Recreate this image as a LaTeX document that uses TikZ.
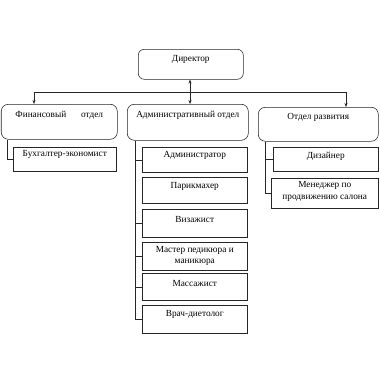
\documentclass[tikz,border=0pt]{standalone}
\usepackage{fontspec}
\setmainfont{Liberation Serif}
\usetikzlibrary{arrows.meta,calc}
\begin{document}
\begin{tikzpicture}[x=1pt,y=-1pt,
  ln/.style={draw=black!85,line width=0.55pt},
  box/.style={ln,rectangle,anchor=north west,inner sep=0pt},
  rbox/.style={box,rounded corners=7pt},
  txt/.style={font=\fontsize{9.3}{11.5}\selectfont,inner sep=0pt,align=center,anchor=center},
  arr/.style={ln,-{Stealth[length=4pt,width=3pt]}}]
\useasboundingbox[fill=white] (0,0) rectangle (380,380);
% top
\node[rbox,rounded corners=6pt,minimum width=105pt,minimum height=30pt] (dir) at (138,49) {};
\node[txt] (dirt) at ($(dir.north)+(0,10)$) {Директор};
\node[rbox,minimum width=116pt,minimum height=35pt] (fin) at (1,104) {};
\node[txt] (fint) at ($(fin.north)+(0,11)$) {Финансовый\hspace{1.6em}отдел};
\node[rbox,minimum width=121pt,minimum height=36pt] (adm) at (127,104) {};
\node[txt] (admt) at ($(adm.north)+(0,11)$) {Административный отдел};
\node[rbox,minimum width=120pt,minimum height=34pt] (dev) at (258,107) {};
\node[txt] (devt) at ($(dev.north)+(0,10)$) {Отдел развития};
% children
\node[box,minimum width=103pt,minimum height=24pt] (buh) at (13,147) {};
\node[txt] (buht) at ($(buh.north)+(0,7)$) {Бухгалтер-экономист};
\node[box,minimum width=105pt,minimum height=25pt] (a1) at (142,147) {};
\node[txt] (a1t) at ($(a1.north)+(0,8)$) {Администратор};
\node[box,minimum width=105pt,minimum height=26pt] (a2) at (142,177) {};
\node[txt] (a2t) at ($(a2.north)+(0,9)$) {Парикмахер};
\node[box,minimum width=105pt,minimum height=28pt] (a3) at (142,209) {};
\node[txt] (a3t) at ($(a3.north)+(0,10)$) {Визажист};
\node[box,minimum width=105pt,minimum height=28pt] (a4) at (142,242) {};
\node[txt] (a4t) at ($(a4.north)+(0,14)$) {Мастер педикюра и\\маникюра};
\node[box,minimum width=105pt,minimum height=27pt] (a5) at (142,273) {};
\node[txt] (a5t) at ($(a5.north)+(0,10)$) {Массажист};
\node[box,minimum width=105pt,minimum height=28pt] (a6) at (142,305) {};
\node[txt] (a6t) at ($(a6.north)+(0,9)$) {Врач-диетолог};
\node[box,minimum width=105pt,minimum height=24pt] (diz) at (273,147) {};
\node[txt] (dizt) at ($(diz.north)+(0,9)$) {Дизайнер};
\node[box,minimum width=107pt,minimum height=30pt] (men) at (271,178) {};
\node[txt] (ment) at ($(men.north)+(0,13.5)$) {Менеджер по\\продвижению салона};
% connectors
\coordinate (bl) at (34,92);
\coordinate (br) at (346,92);
\draw[ln] (bl) -- (br);
\draw[arr] (bl) -- (bl |- fin.north);
\draw[arr] (br) -- (br |- dev.north);
\draw[ln,{Stealth[length=4pt,width=3pt]}-{Stealth[length=4pt,width=3pt]}] (190,0 |- dir.south) -- (190,0 |- adm.north);
\coordinate (fv) at (7,0 |- fin.south);
\draw[ln] (fv) |- (buh.west);
\coordinate (av) at (135,0 |- adm.south);
\draw[ln] (av) |- (a6.west);
\foreach \n in {a1,a3,a4,a5} \draw[ln] (av |- \n.west) -- (\n.west);
\coordinate (dv) at (265,0 |- dev.south);
\draw[ln] (dv) |- (men.west);
\draw[ln] (dv |- diz.west) -- (diz.west);
\end{tikzpicture}
\end{document}
